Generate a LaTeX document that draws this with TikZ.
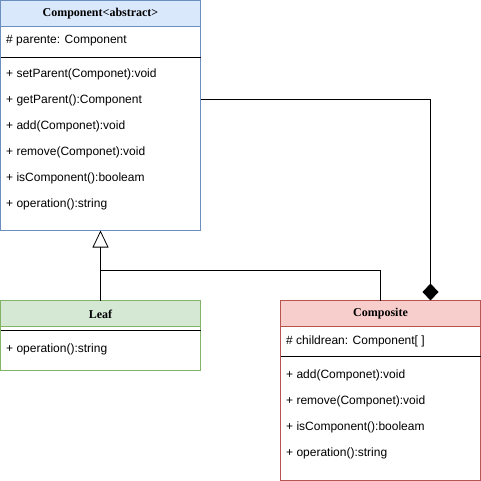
\documentclass[tikz,border=0pt]{standalone}
\usepackage{fontspec}
\setmainfont{Liberation Serif}
\setsansfont{Liberation Sans}
\usetikzlibrary{arrows.meta}
\definecolor{bfill}{HTML}{DAE8FC}\definecolor{bline}{HTML}{6C8EBF}
\definecolor{gfill}{HTML}{D5E8D4}\definecolor{gline}{HTML}{82B366}
\definecolor{rfill}{HTML}{F8CECC}\definecolor{rline}{HTML}{B85450}
\tikzset{
  box/.style={draw, line width=0.8pt, anchor=north west, inner sep=0pt, outer sep=0pt, minimum width=200pt},
  head/.style={line width=0.8pt, anchor=north west, inner sep=0pt, outer sep=0pt, minimum width=200pt, minimum height=26pt},
  htxt/.style={inner sep=0pt, font=\rmfamily\bfseries\fontsize{12}{14}\selectfont},
  txt/.style={anchor=west, inner sep=0pt, font=\sffamily\fontsize{12}{14}\selectfont},
  sep/.style={line width=0.8pt},
  conn/.style={line width=0.8pt},
}
\begin{document}
\begin{tikzpicture}[x=1pt,y=-1pt]
\useasboundingbox (0,0) rectangle (481,481);
% Component
\node[box, draw=bline, minimum height=230pt] (comp) at (0.5,0.5) {};
\node[head, draw=bline, fill=bfill] (comph) at (0.5,0.5) {};
\node[htxt] (compt) at (100.5,14) {Component<abstract>};
\draw[sep] (0.5,57) -- (200.5,57);
\node[txt] (c0) at (6,41) {\# parente: Component};
\node[txt] (c1) at (6,74) {+ setParent(Componet):void};
\node[txt] (c2) at (6,100) {+ getParent():Component};
\node[txt] (c3) at (6,126) {+ add(Componet):void};
\node[txt] (c4) at (6,152) {+ remove(Componet):void};
\node[txt] (c5) at (6,178) {+ isComponent():booleam};
\node[txt] (c6) at (6,204) {+ operation():string};
% Leaf
\node[box, draw=gline, minimum height=70pt] (leaf) at (0.5,300.5) {};
\node[head, draw=gline, fill=gfill] (leafh) at (0.5,300.5) {};
\node[htxt] (leaft) at (100.5,314) {Leaf};
\draw[sep] (0.5,330) -- (200.5,330);
\node[txt] (l1) at (6,349) {+ operation():string};
% Composite
\node[box, draw=rline, minimum height=180pt] (cmp) at (280.5,300.5) {};
\node[head, draw=rline, fill=rfill] (cmph) at (280.5,300.5) {};
\node[htxt] (cmpt) at (380.5,314) {Composite};
\draw[sep] (280.5,356) -- (480.5,356);
\node[txt] (k0) at (286,341) {\# childrean: Component[ ]};
\node[txt] (k1) at (286,375) {+ add(Componet):void};
\node[txt] (k2) at (286,401) {+ remove(Componet):void};
\node[txt] (k3) at (286,427) {+ isComponent():booleam};
\node[txt] (k4) at (286,453) {+ operation():string};
% connectors
\coordinate (j) at (100.5,270.5);
\coordinate (ca) at (200.5,99.5);
\coordinate (dt) at (430.5,300.5);
\draw[conn, -{Triangle[open, length=17pt, width=16pt]}] (leafh.north) -- (comp.south);
\draw[conn] (cmph.north) |- (j);
\draw[conn, -{Diamond[length=17pt, width=16pt]}] (ca) -| (dt);
\end{tikzpicture}
\end{document}
